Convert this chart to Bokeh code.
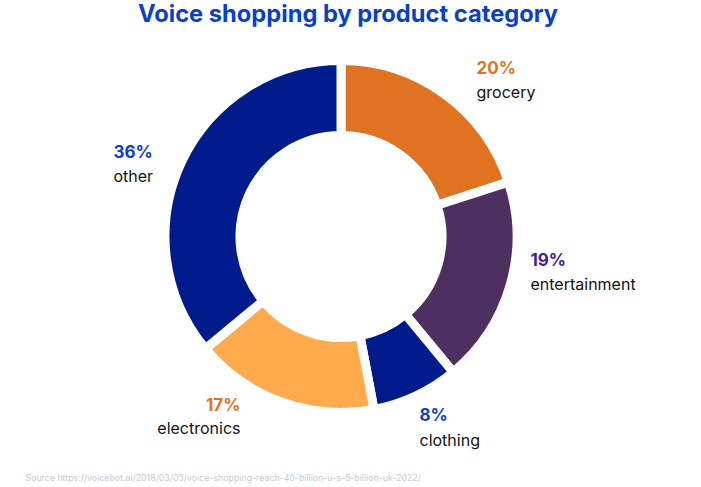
import math
from bokeh.plotting import figure
from bokeh.models import Range1d, ColumnDataSource
from bokeh.core.properties import value
from bokeh.embed import file_html
from bokeh.resources import INLINE

# ---- data ----
categories = ["grocery", "entertainment", "clothing", "electronics", "other"]
shares = [20, 19, 8, 17, 36]
slice_colors = ["#e07322", "#4d3060", "#001c8c", "#ffaa4c", "#001c8c"]
pct_colors = ["#e07322", "#3d2490", "#0d40c8", "#e07322", "#0d40c8"]
title_text = "Voice shopping by product category"
source_text = "Source https://voicebot.ai/2018/03/05/voice-shopping-reach-40-billion-u-s-5-billion-uk-2022/"

# ---- layout (screen pixels) ----
W, H = 701, 487
CX, CY = 340.5, 236
R_OUT, R_IN = 176, 101
FONT = "Inter"
# label anchors: (x, y of pct line, y of name line, align)
label_layout = [
    (476, 67, 91, "left"),
    (530, 259, 283, "left"),
    (419, 414, 439, "left"),
    (240, 404, 427, "right"),
    (113, 151, 175, "left"),
]

def sy(y):
    return H - y

total = sum(shares)
starts, ends = [], []
cum = 0
for s in shares:
    starts.append(math.pi / 2 - 2 * math.pi * cum / total)
    cum += s
    ends.append(math.pi / 2 - 2 * math.pi * cum / total)

p = figure(width=W, height=H, output_backend="svg", toolbar_location=None,
           x_range=Range1d(0, W), y_range=Range1d(0, H), min_border=0)
p.axis.visible = False
p.grid.visible = False
p.outline_line_color = None
p.background_fill_color = "white"
p.border_fill_color = "white"

src = ColumnDataSource(dict(start=starts, end=ends, color=slice_colors,
                            x=[CX] * len(shares), y=[sy(CY)] * len(shares)))
p.annular_wedge(x="x", y="y", inner_radius=R_IN, outer_radius=R_OUT,
                start_angle="start", end_angle="end", direction="clock",
                fill_color="color", line_color="white", line_width=9,
                line_join="round", source=src)

pct_src = ColumnDataSource(dict(
    x=[l[0] for l in label_layout], y=[sy(l[1]) for l in label_layout],
    text=[f"{s}%" for s in shares], color=pct_colors,
    align=[l[3] for l in label_layout]))
p.text(x="x", y="y", text="text", text_color="color", text_align="align",
       text_baseline="middle", text_font=value(FONT), text_font_style="bold",
       text_font_size="17px", source=pct_src)

name_src = ColumnDataSource(dict(
    x=[l[0] for l in label_layout], y=[sy(l[2]) for l in label_layout],
    text=categories, align=[l[3] for l in label_layout]))
p.text(x="x", y="y", text="text", text_color="#111111", text_align="align",
       text_baseline="middle", text_font=value(FONT), text_font_size="16px",
       source=name_src)

p.text(x=[347.5], y=[sy(13)], text=[title_text], text_color="#0a3fc8",
       text_align="center", text_baseline="middle", text_font=value(FONT),
       text_font_style="bold", text_font_size="23.7px")

p.text(x=[25], y=[sy(477)], text=[source_text], text_color="#c5cad8",
       text_align="left", text_baseline="middle", text_font=value(FONT),
       text_font_size="8.8px")

open("out.html", "w").write(file_html(p, INLINE))
